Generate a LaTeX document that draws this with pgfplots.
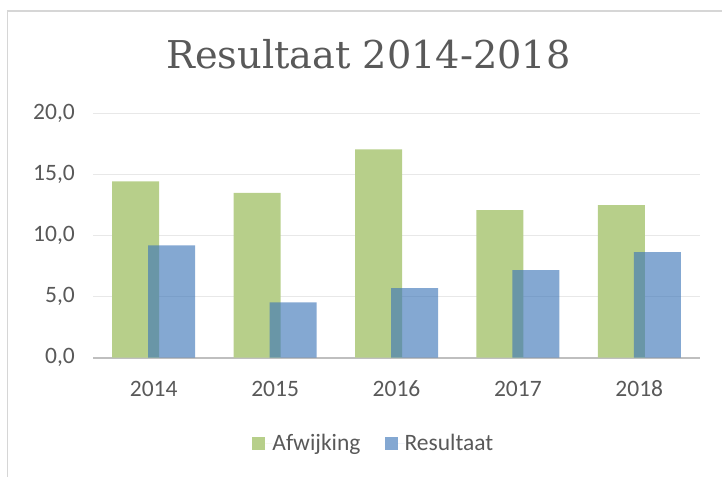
\documentclass[border=0pt]{standalone}
\usepackage{fontspec}
\setmainfont{Carlito}
\newfontfamily\titlefont{DejaVu Serif}
\usepackage{pgfplots}
\pgfplotsset{compat=1.18}
\definecolor{txt}{HTML}{595959}
\definecolor{grn}{HTML}{B7CF8A}
\definecolor{blu}{HTML}{3C75B8}
\definecolor{grd}{HTML}{E8E8E8}
\definecolor{axl}{HTML}{BFBFBF}
\definecolor{frm}{HTML}{D6D6D6}
\begin{document}
\begin{tikzpicture}
\path[use as bounding box] (0,0) rectangle (722bp,477bp);
\draw[frm, line width=1.5bp] (7.5bp,0) -- (7.5bp,466bp) -- (722bp,466bp);
\node[anchor=base, text=txt, inner sep=0pt] at (368.5bp,408bp) {\titlefont\fontsize{38.3bp}{42bp}\selectfont Resultaat 2014-2018};
\begin{axis}[
  at={(93bp,119.3bp)}, anchor=south west,
  scale only axis, width=607bp, height=244bp,
  xmin=-0.5, xmax=4.5, ymin=0, ymax=20,
  xtick={0,1,2,3,4},
  xticklabels={2014,2015,2016,2017,2018},
  ytick={0,5,10,15,20},
  major tick length=0pt,
  ymajorgrids,
  grid style={grd, line width=1.2bp},
  separate axis lines,
  axis x line*=bottom,
  axis y line*=left,
  y axis line style={draw=none},
  x axis line style={draw=axl, line width=2.2bp, -},
  tick label style={font=\fontsize{23.5bp}{27bp}\selectfont, text=txt, inner sep=0pt},
  xticklabel shift=23bp,
  yticklabel shift=18bp,
  /pgf/number format/.cd, fixed, fixed zerofill, precision=1, use comma, assume math mode=true,
  /pgfplots/.cd,
  ybar, bar width=47bp,
  legend columns=2,
  legend style={at={(0.461,-0.35)}, anchor=center, draw=none, fill=none,
    font=\fontsize{23.5bp}{27bp}\selectfont, text=txt,
    /tikz/every even column/.append style={column sep=24bp},
    nodes={inner sep=0pt, outer sep=0pt}},
  legend image code/.code={\fill[#1] (0bp,-6.5bp) rectangle (13bp,6.5bp); \path (13bp,0) -- (20bp,0);},
]
\addplot[draw=none, fill=grn, bar shift=-18bp] coordinates {(0,14.45) (1,13.5) (2,17.08) (3,12.1) (4,12.5)};
\addplot[draw=none, fill=blu, fill opacity=0.63, bar shift=18bp] coordinates {(0,9.2) (1,4.54) (2,5.7) (3,7.17) (4,8.65)};
\legend{Afwijking,Resultaat}
\end{axis}
\end{tikzpicture}
\end{document}
